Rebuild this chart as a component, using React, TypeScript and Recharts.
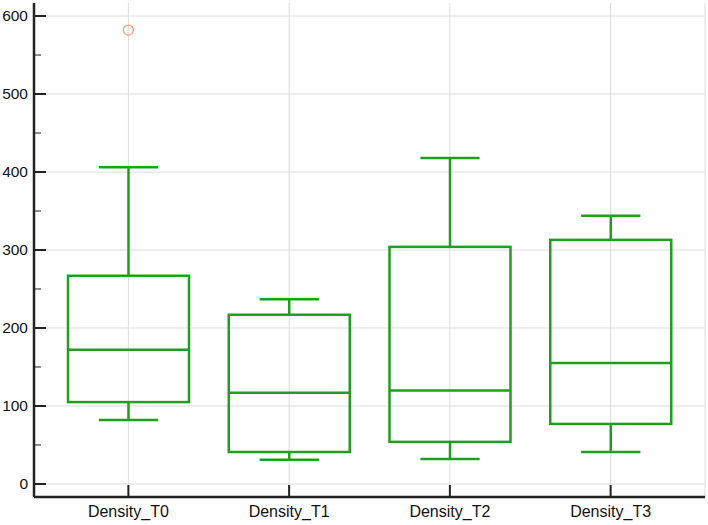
import React from "react";
import { Bar, CartesianGrid, ComposedChart, Scatter, XAxis, YAxis } from "recharts";

const categories = ["Density_T0", "Density_T1", "Density_T2", "Density_T3"];
const whiskerLow = [82, 31, 32, 41];
const q1 = [105, 41, 54, 77];
const median = [172, 117, 120, 155];
const q3 = [267, 217, 304, 313];
const whiskerHigh = [406, 237, 418, 344];
const outliers = [582, null, null, null];

const majorTicks = [0, 100, 200, 300, 400, 500, 600];
const allTicks = [0, 50, 100, 150, 200, 250, 300, 350, 400, 450, 500, 550, 600];

const data = categories.map((name, i) => ({
  name,
  range: [whiskerLow[i], whiskerHigh[i]],
  low: whiskerLow[i],
  q1: q1[i],
  median: median[i],
  q3: q3[i],
  high: whiskerHigh[i],
  outlier: outliers[i],
}));

const GREEN = "#1f9e1f";
const FONT = "'Liberation Sans', Arial, sans-serif";

function BoxShape(props: any) {
  const { x, y, width, height, payload } = props;
  const { low, high } = payload;
  const toY = (v: number) => y + (height * (high - v)) / (high - low);
  const cx = x + width / 2;
  const cap = width * 0.49;
  const yq1 = toY(payload.q1);
  const yq3 = toY(payload.q3);
  const ym = toY(payload.median);
  const yl = toY(low);
  const yh = toY(high);
  return (
    <g stroke={GREEN} strokeWidth={2.5} fill="none">
      <line x1={cx} x2={cx} y1={yh} y2={yq3} />
      <line x1={cx} x2={cx} y1={yq1} y2={yl} />
      <line x1={cx - cap / 2} x2={cx + cap / 2} y1={yh} y2={yh} />
      <line x1={cx - cap / 2} x2={cx + cap / 2} y1={yl} y2={yl} />
      <rect x={x} y={yq3} width={width} height={yq1 - yq3} />
      <line x1={x} x2={x + width} y1={ym} y2={ym} />
    </g>
  );
}

function OutlierShape(props: any) {
  const { cx, cy, payload } = props;
  if (payload == null || payload.outlier == null || !isFinite(cy)) return null;
  return <circle cx={cx} cy={cy} r={5} fill="none" stroke="#f0a070" strokeWidth={1.3} />;
}

function YTick(props: any) {
  const { x, y, payload } = props;
  const axisX = x + 6;
  const major = payload.value % 100 === 0;
  return (
    <g>
      <line x1={axisX} x2={axisX + (major ? 12 : 7)} y1={y} y2={y} stroke="#222" strokeWidth={major ? 2 : 1} />
      {major && (
        <text x={x} y={y} dy="0.35em" textAnchor="end" fontSize={15.5} fontFamily={FONT} fill="#111">
          {payload.value}
        </text>
      )}
    </g>
  );
}

function XTick(props: any) {
  const { x, y, payload } = props;
  const axisY = y - 10;
  return (
    <g>
      <line x1={x} x2={x} y1={axisY} y2={axisY - 11} stroke="#222" strokeWidth={2} />
      <text x={x} y={y} dy="0.71em" textAnchor="middle" fontSize={16} fontFamily={FONT} fill="#111">
        {payload.value}
      </text>
    </g>
  );
}

export default function App() {
  return (
    <div style={{ position: "absolute", left: 0, top: 0, background: "#fff" }}>
      <ComposedChart width={708} height={525} data={data} margin={{ top: 3, right: 3, left: 0, bottom: 0 }}>
        <CartesianGrid stroke="#dcdcdc" horizontalValues={majorTicks} />
        <XAxis
          dataKey="name"
          height={28}
          padding={{ left: 14, right: 14 }}
          tickSize={0}
          tickMargin={9}
          tick={<XTick />}
          axisLine={{ stroke: "#222", strokeWidth: 2.5 }}
          tickLine={false}
          interval={0}
        />
        <YAxis
          type="number"
          width={34}
          domain={[-16.7, 616.7]}
          ticks={allTicks}
          interval={0}
          tickSize={0}
          tickMargin={6}
          tick={<YTick />}
          axisLine={{ stroke: "#222", strokeWidth: 2.5 }}
          tickLine={false}
          allowDataOverflow
        />
        <Bar dataKey="range" barSize={121} shape={<BoxShape />} isAnimationActive={false} />
        <Scatter dataKey="outlier" shape={<OutlierShape />} isAnimationActive={false} />
      </ComposedChart>
    </div>
  );
}
